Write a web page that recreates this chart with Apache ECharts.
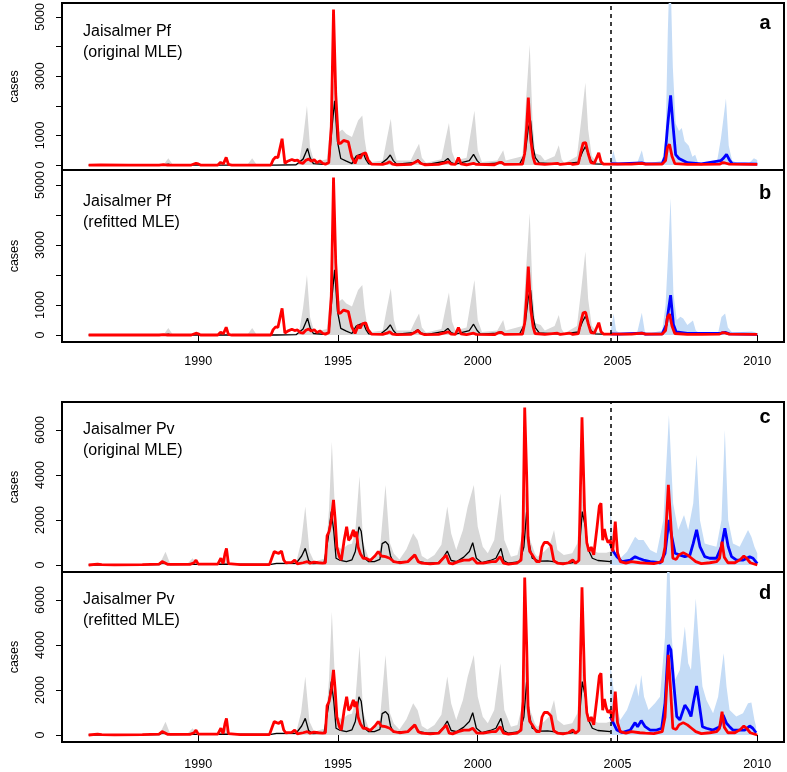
<!DOCTYPE html>
<html><head><meta charset="utf-8">
<script src="https://cdn.jsdelivr.net/npm/echarts@6/dist/echarts.min.js"></script>
<style>html,body{margin:0;padding:0;background:#fff}#c{width:787px;height:772px}</style>
</head><body><div id="c"></div>
<script>
// ---------- axis ticks ----------
const xTickValues = [1990, 1995, 2000, 2005, 2010];
const pfTickValues = [0, 1000, 2000, 3000, 4000, 5000];
const pfTickLabels = [0, 1000, 3000, 5000];
const pvTickValues = [0, 2000, 4000, 6000];
const forecastStart = 2004.75;
const panelTitles = ['Jaisalmer Pf\n(original MLE)', 'Jaisalmer Pf\n(refitted MLE)', 'Jaisalmer Pv\n(original MLE)', 'Jaisalmer Pv\n(refitted MLE)'];
const panelLetters = ['a', 'b', 'c', 'd'];

// ---------- Pf ----------
const pfCases = [[1986.08,0],[1986.5,5],[1987.5,0],[1988.6,0],[1988.75,15],[1988.9,0],[1989.75,0],[1989.92,60],[1990.0,40],[1990.08,0],[1990.7,0],[1990.8,90],[1990.9,40],[1991.0,260],[1991.08,20],[1991.2,0],[1992.6,0],[1992.68,180],[1992.77,270],[1992.85,250],[1993.0,890],[1993.1,60],[1993.2,130],[1993.35,190],[1993.45,150],[1993.55,170],[1993.65,80],[1993.75,60],[1993.85,160],[1993.95,200],[1994.05,130],[1994.15,180],[1994.25,80],[1994.35,140],[1994.45,60],[1994.55,30],[1994.67,80],[1994.76,1300],[1994.84,5250],[1994.92,2400],[1995.02,720],[1995.1,740],[1995.2,830],[1995.37,780],[1995.49,280],[1995.61,55],[1995.73,330],[1995.79,220],[1995.87,370],[1995.99,410],[1996.08,170],[1996.2,30],[1996.6,20],[1996.75,60],[1996.85,110],[1996.95,30],[1997.1,10],[1997.6,20],[1997.78,100],[1997.86,150],[1997.95,60],[1998.1,10],[1998.6,20],[1998.85,80],[1998.95,110],[1999.05,30],[1999.2,20],[1999.31,250],[1999.4,40],[1999.6,10],[1999.85,60],[1999.95,20],[2000.6,10],[2000.75,80],[2000.85,90],[2000.95,20],[2001.6,30],[2001.68,400],[2001.75,1280],[2001.81,2280],[2001.9,830],[2001.98,280],[2002.05,50],[2002.4,20],[2002.85,60],[2002.95,20],[2003.3,60],[2003.4,20],[2003.6,50],[2003.68,400],[2003.77,740],[2003.86,760],[2003.95,390],[2004.05,80],[2004.17,60],[2004.33,410],[2004.41,110],[2004.5,30],[2004.75,30],[2005.5,30],[2005.87,60],[2006.0,30],[2006.6,30],[2006.72,150],[2006.79,600],[2006.86,700],[2006.95,300],[2007.05,50],[2007.5,20],[2008.0,20],[2008.65,30],[2008.75,80],[2008.85,70],[2009.0,30],[2010.0,20]];
const pfMean = [[1986.08,0],[1988.8,5],[1988.93,30],[1989.05,0],[1992.8,0],[1993.5,10],[1993.75,200],[1993.91,560],[1994.0,250],[1994.12,50],[1994.5,20],[1994.68,100],[1994.78,1200],[1994.88,2170],[1994.98,800],[1995.1,220],[1995.3,130],[1995.5,50],[1995.65,300],[1995.8,360],[1995.91,390],[1996.0,180],[1996.1,40],[1996.5,20],[1996.75,200],[1996.87,340],[1996.98,150],[1997.1,30],[1997.7,80],[1997.86,180],[1997.98,60],[1998.2,20],[1998.8,120],[1998.93,220],[1999.05,80],[1999.2,30],[1999.7,150],[1999.85,360],[1999.98,150],[2000.1,30],[2000.7,60],[2000.83,110],[2000.95,40],[2001.5,40],[2001.7,400],[2001.81,1250],[2001.89,1500],[2001.98,600],[2002.06,250],[2002.2,70],[2002.8,40],[2003.0,30],[2003.6,100],[2003.75,450],[2003.85,620],[2003.95,400],[2004.05,150],[2004.2,40],[2004.75,20]];
const pfUpper = [[1986.08,0],[1988.75,0],[1988.93,230],[1989.1,0],[1991.75,0],[1991.93,230],[1992.1,0],[1993.6,50],[1993.75,900],[1993.89,2000],[1994.0,600],[1994.15,100],[1994.6,200],[1994.75,1500],[1994.84,2900],[1994.93,1800],[1995.02,1100],[1995.15,1200],[1995.3,1050],[1995.5,950],[1995.6,1200],[1995.72,1500],[1995.87,1670],[1995.95,900],[1996.05,300],[1996.2,100],[1996.6,150],[1996.75,900],[1996.89,1560],[1997.0,500],[1997.1,150],[1997.6,150],[1997.75,450],[1997.9,720],[1998.0,250],[1998.15,80],[1998.7,200],[1998.85,900],[1998.97,1420],[1999.08,450],[1999.2,150],[1999.6,250],[1999.75,1100],[1999.88,1830],[2000.0,500],[2000.15,100],[2000.7,150],[2000.82,350],[2000.91,500],[2001.0,150],[2001.6,300],[2001.75,2500],[2001.86,4060],[2001.96,1500],[2002.05,400],[2002.25,330],[2002.4,150],[2002.75,300],[2002.9,670],[2003.0,200],[2003.1,60],[2003.55,300],[2003.7,1500],[2003.85,2780],[2003.95,1200],[2004.08,300],[2004.3,80],[2004.75,50]];
const pfOrigForecast = [[2004.75,50],[2005.0,40],[2005.87,70],[2006.0,40],[2006.6,50],[2006.7,280],[2006.79,1300],[2006.9,2350],[2006.99,1300],[2007.08,350],[2007.2,220],[2007.5,80],[2008.0,40],[2008.7,150],[2008.78,220],[2008.9,360],[2009.0,180],[2009.1,50],[2010.0,30]];
const pfOrigUpper = [[2004.75,80],[2004.85,480],[2004.95,120],[2005.1,40],[2005.7,60],[2005.87,500],[2005.97,80],[2006.1,40],[2006.6,150],[2006.72,900],[2006.8,4500],[2006.88,7000],[2006.98,3300],[2007.08,1400],[2007.2,1150],[2007.3,1250],[2007.4,800],[2007.55,650],[2007.68,280],[2007.78,350],[2007.88,80],[2008.0,40],[2008.55,60],[2008.7,900],[2008.88,2250],[2008.98,650],[2009.1,150],[2009.3,60],[2009.7,60],[2009.88,230],[2010.0,170]];
const pfRefitForecast = [[2004.75,40],[2005.0,30],[2005.87,60],[2006.0,30],[2006.6,40],[2006.75,350],[2006.9,1330],[2007.0,350],[2007.1,100],[2007.5,50],[2008.7,60],[2008.85,90],[2009.0,40],[2010.0,20]];
const pfRefitUpper = [[2004.75,80],[2004.86,720],[2004.95,150],[2005.1,50],[2005.7,70],[2005.87,740],[2005.98,100],[2006.1,40],[2006.6,150],[2006.72,1000],[2006.79,2300],[2006.9,4560],[2007.0,1400],[2007.12,500],[2007.25,610],[2007.35,550],[2007.5,330],[2007.7,480],[2007.8,150],[2007.95,50],[2008.6,70],[2008.72,600],[2008.85,720],[2008.95,250],[2009.1,80],[2009.8,120],[2009.9,100],[2010.0,60]];

// ---------- Pv ----------
const pvCases = [[1986.08,0],[1986.4,40],[1986.55,20],[1987.0,10],[1988.0,20],[1988.6,40],[1988.71,150],[1988.8,100],[1988.9,30],[1989.7,30],[1989.85,100],[1989.92,220],[1990.0,40],[1990.7,40],[1990.81,300],[1990.89,60],[1990.96,520],[1991.01,740],[1991.08,60],[1991.5,20],[1992.55,20],[1992.65,370],[1992.72,595],[1992.8,550],[1992.88,520],[1992.98,620],[1993.06,220],[1993.13,100],[1993.35,120],[1993.45,220],[1993.55,50],[1993.75,100],[1993.9,150],[1994.0,80],[1994.15,130],[1994.3,100],[1994.45,80],[1994.55,100],[1994.61,1300],[1994.68,1480],[1994.76,2000],[1994.84,2890],[1994.9,2000],[1994.96,800],[1995.05,370],[1995.12,220],[1995.22,1100],[1995.31,1700],[1995.38,1100],[1995.45,1200],[1995.55,1560],[1995.6,1250],[1995.66,1480],[1995.72,800],[1995.8,500],[1995.9,300],[1996.0,300],[1996.15,200],[1996.32,400],[1996.44,600],[1996.55,400],[1996.7,370],[1996.85,300],[1997.0,150],[1997.2,100],[1997.5,150],[1997.75,450],[1997.87,150],[1998.0,80],[1998.3,50],[1998.6,80],[1998.87,440],[1998.98,80],[1999.1,50],[1999.3,150],[1999.5,220],[1999.7,220],[1999.82,300],[1999.97,80],[2000.2,80],[2000.5,150],[2000.65,150],[2000.8,370],[2000.92,80],[2001.1,40],[2001.4,80],[2001.55,220],[2001.62,1500],[2001.68,7000],[2001.75,4000],[2001.8,1200],[2001.86,600],[2001.95,450],[2002.1,150],[2002.22,150],[2002.3,800],[2002.38,1000],[2002.5,1000],[2002.62,850],[2002.72,200],[2002.85,80],[2003.05,50],[2003.25,100],[2003.4,220],[2003.5,80],[2003.62,200],[2003.73,6560],[2003.82,2500],[2003.9,1000],[2003.98,600],[2004.06,800],[2004.15,450],[2004.27,1700],[2004.35,2620],[2004.41,2740],[2004.47,1100],[2004.53,1600],[2004.6,1200],[2004.66,1000],[2004.74,1100],[2004.83,600],[2004.92,1930],[2005.0,550],[2005.1,150],[2005.3,80],[2005.5,150],[2005.8,100],[2006.0,80],[2006.3,60],[2006.6,150],[2006.7,800],[2006.82,3560],[2006.9,2000],[2006.98,300],[2007.1,250],[2007.2,450],[2007.35,550],[2007.5,450],[2007.65,300],[2007.8,150],[2008.0,60],[2008.3,100],[2008.55,150],[2008.65,300],[2008.74,1040],[2008.82,350],[2008.95,100],[2009.2,100],[2009.4,250],[2009.52,400],[2009.62,300],[2009.75,100],[2010.0,0]];
const pvMean = [[1986.08,0],[1988.6,20],[1988.73,100],[1988.85,60],[1989.0,20],[1989.9,30],[1990.9,40],[1992.6,30],[1992.8,70],[1993.5,70],[1993.7,400],[1993.83,740],[1993.95,200],[1994.1,60],[1994.5,80],[1994.65,1200],[1994.76,2370],[1994.85,1500],[1994.93,300],[1995.05,220],[1995.3,150],[1995.5,230],[1995.62,600],[1995.75,1700],[1995.83,1500],[1995.95,300],[1996.1,150],[1996.3,150],[1996.5,250],[1996.58,950],[1996.7,1040],[1996.8,900],[1996.88,400],[1996.98,120],[1997.2,150],[1997.5,150],[1997.75,400],[1997.9,150],[1998.2,80],[1998.6,100],[1998.75,300],[1998.91,620],[1999.05,200],[1999.25,150],[1999.5,350],[1999.7,600],[1999.82,990],[1999.95,300],[2000.15,100],[2000.45,200],[2000.65,300],[2000.83,740],[2000.93,200],[2001.1,80],[2001.5,150],[2001.65,800],[2001.75,2370],[2001.83,1000],[2001.95,300],[2002.2,170],[2002.5,180],[2002.7,150],[2003.0,80],[2003.3,80],[2003.6,150],[2003.74,2370],[2003.85,1700],[2003.95,700],[2004.1,300],[2004.3,200],[2004.75,150]];
const pvUpper = [[1986.08,0],[1988.6,0],[1988.83,590],[1989.0,50],[1989.6,50],[1989.8,300],[1989.95,50],[1990.7,60],[1990.98,370],[1991.1,30],[1992.5,50],[1993.5,100],[1993.68,1000],[1993.83,2600],[1993.98,600],[1994.15,150],[1994.4,250],[1994.55,300],[1994.68,2500],[1994.78,5480],[1994.9,2200],[1995.0,800],[1995.15,700],[1995.35,900],[1995.5,950],[1995.62,1500],[1995.77,3950],[1995.9,1000],[1996.1,300],[1996.3,250],[1996.5,700],[1996.7,3560],[1996.85,1000],[1997.0,500],[1997.2,250],[1997.45,700],[1997.69,1410],[1997.85,1100],[1998.0,400],[1998.2,250],[1998.45,450],[1998.7,900],[1998.91,2600],[1999.05,1400],[1999.23,670],[1999.47,1560],[1999.64,2590],[1999.86,3560],[2000.0,1700],[2000.18,810],[2000.36,520],[2000.59,1110],[2000.81,3190],[2000.95,1110],[2001.19,370],[2001.42,440],[2001.55,1100],[2001.68,3000],[2001.75,3600],[2001.85,1200],[2002.05,500],[2002.13,370],[2002.37,590],[2002.55,810],[2002.73,1560],[2002.85,670],[2003.08,440],[2003.38,520],[2003.56,960],[2003.73,3500],[2003.85,1000],[2004.05,700],[2004.3,550],[2004.6,550],[2004.74,600]];
const pvOrigForecast = [[2004.74,960],[2004.86,590],[2004.98,370],[2005.16,150],[2005.46,220],[2005.63,370],[2005.75,300],[2005.93,220],[2006.17,150],[2006.53,100],[2006.7,520],[2006.84,2000],[2006.94,1260],[2007.06,520],[2007.24,440],[2007.41,370],[2007.59,440],[2007.71,960],[2007.83,1560],[2007.95,820],[2008.12,370],[2008.3,300],[2008.54,300],[2008.72,820],[2008.84,1630],[2008.96,820],[2009.08,370],[2009.26,220],[2009.5,220],[2009.73,370],[2009.85,300],[2010.0,60]];
const pvOrigUpper = [[2004.74,2670],[2004.86,800],[2004.97,370],[2005.1,300],[2005.34,590],[2005.63,1260],[2005.75,1110],[2005.93,1110],[2006.17,670],[2006.4,520],[2006.64,2000],[2006.84,6670],[2006.99,2740],[2007.17,1560],[2007.38,2220],[2007.53,1560],[2007.71,2740],[2007.83,4900],[2007.95,1990],[2008.12,960],[2008.3,890],[2008.54,810],[2008.72,2000],[2008.84,6000],[2008.96,2000],[2009.13,960],[2009.37,810],[2009.67,1560],[2009.79,1260],[2009.9,810],[2010.0,520]];
const pvRefitForecast = [[2004.74,820],[2004.86,520],[2004.98,220],[2005.16,110],[2005.46,220],[2005.63,550],[2005.72,370],[2005.85,640],[2005.99,370],[2006.17,220],[2006.4,220],[2006.58,300],[2006.7,1410],[2006.82,4000],[2006.91,3780],[2007.0,2450],[2007.12,820],[2007.23,670],[2007.41,1330],[2007.53,1110],[2007.63,820],[2007.71,1410],[2007.83,2180],[2007.92,1410],[2008.04,370],[2008.18,300],[2008.42,220],[2008.66,370],[2008.78,890],[2008.9,520],[2009.01,370],[2009.13,220],[2009.37,220],[2009.55,220],[2009.73,400],[2009.84,300],[2009.96,100]];
const pvRefitUpper = [[2004.74,3190],[2004.92,1410],[2005.1,670],[2005.34,1110],[2005.51,1700],[2005.67,2300],[2005.75,1700],[2005.85,2670],[2005.95,1700],[2006.11,1110],[2006.34,1410],[2006.52,1700],[2006.7,4370],[2006.82,9000],[2006.94,4370],[2007.06,2450],[2007.23,2890],[2007.41,4820],[2007.53,3190],[2007.63,2890],[2007.71,4370],[2007.8,6070],[2007.92,3930],[2008.04,2150],[2008.18,1560],[2008.42,970],[2008.6,1700],[2008.72,2890],[2008.8,3630],[2008.9,2150],[2009.01,1110],[2009.25,820],[2009.49,970],[2009.67,1410],[2009.79,1440],[2009.9,670],[2009.96,370]];

// ---------- layout ----------
const panels = [
  {top: 1,   height: 169, min: -167, max: 5467, ticks: pfTickValues, labels: pfTickLabels, xLabels: false, xMargin: 13, titleTop: 21.5, letterY: 23,
   cases: pfCases, mean: pfMean, upper: pfUpper, fc: pfOrigForecast, fcUpper: pfOrigUpper},
  {top: 170, height: 172, min: -233, max: 5500, ticks: pfTickValues, labels: pfTickLabels, xLabels: true, xMargin: 13, titleTop: 191, letterY: 193,
   cases: pfCases, mean: pfMean, upper: pfUpper, fc: pfRefitForecast, fcUpper: pfRefitUpper},
  {top: 402, height: 170, min: -311, max: 7244, ticks: pvTickValues, labels: pvTickValues, xLabels: false, xMargin: 13, titleTop: 419.5, letterY: 417,
   cases: pvCases, mean: pvMean, upper: pvUpper, fc: pvOrigForecast, fcUpper: pvOrigUpper},
  {top: 572, height: 170, min: -311, max: 7244, ticks: pvTickValues, labels: pvTickValues, xLabels: true, xMargin: 16, titleTop: 589.5, letterY: 593,
   cases: pvCases, mean: pvMean, upper: pvUpper, fc: pvRefitForecast, fcUpper: pvRefitUpper}
];

const FONT = 'Liberation Sans, Arial, Helvetica, sans-serif';
const plain = v => String(Math.round(v));
const grid = [], xAxis = [], yAxis = [], series = [], title = [], graphic = [];
panels.forEach((p, i) => {
  grid.push({left: 59, width: 725, top: p.top, height: p.height, show: true, borderColor: '#000', borderWidth: 2, backgroundColor: 'transparent'});
  xAxis.push({
    type: 'value', gridIndex: i, min: 1985.126, max: 2010.957,
    axisLine: {show: false}, splitLine: {show: false},
    axisTick: {show: p.xLabels, customValues: xTickValues, length: 7, lineStyle: {color: '#000', width: 1}},
    axisLabel: {show: p.xLabels, customValues: xTickValues, formatter: plain, margin: p.xMargin, fontSize: 12.5, color: '#000', fontFamily: FONT}
  });
  yAxis.push({
    type: 'value', gridIndex: i, min: p.min, max: p.max,
    name: 'cases', nameLocation: 'middle', nameRotate: 90, nameGap: 41,
    nameTextStyle: {fontSize: 12.5, color: '#000', fontFamily: FONT},
    axisLine: {show: false}, splitLine: {show: false},
    axisTick: {show: true, customValues: p.ticks, length: 6, lineStyle: {color: '#000', width: 1}},
    axisLabel: {customValues: p.labels, formatter: plain, rotate: 90, margin: 15, fontSize: 12.5, color: '#000', fontFamily: FONT}
  });
  const base = {type: 'line', xAxisIndex: i, yAxisIndex: i, symbol: 'none', showSymbol: false, animation: false, silent: true};
  series.push(Object.assign({}, base, {name: 'upper' + i, data: p.upper, lineStyle: {width: 0}, areaStyle: {color: '#d8d8d8', opacity: 1}, z: 1}));
  series.push(Object.assign({}, base, {name: 'fcUpper' + i, data: p.fcUpper, lineStyle: {width: 0}, areaStyle: {color: '#c5dcf6', opacity: 1}, z: 1,
    markLine: {silent: true, symbol: ['none', 'none'], label: {show: false}, animation: false,
      lineStyle: {color: '#000', width: 1.5, type: [4, 4]}, data: [{xAxis: forecastStart}]}}));
  series.push(Object.assign({}, base, {name: 'mean' + i, data: p.mean, lineStyle: {color: '#000', width: 1.3}, z: 2}));
  series.push(Object.assign({}, base, {name: 'fc' + i, data: p.fc, lineStyle: {color: '#0000ff', width: 2.8}, z: 3}));
  series.push(Object.assign({}, base, {name: 'cases' + i, data: p.cases, lineStyle: {color: '#ff0000', width: 2.8}, z: 4}));
  title.push({text: panelTitles[i], left: 83, top: p.titleTop, padding: 0,
    textStyle: {fontSize: 16, fontWeight: 'normal', color: '#000', fontFamily: FONT, lineHeight: 21}});
  graphic.push({type: 'text', x: 765, y: p.letterY, style: {text: panelLetters[i], fontSize: 20, fontWeight: 'bold', fill: '#000', fontFamily: FONT, align: 'center', verticalAlign: 'middle'}});
});

const chart = echarts.init(document.getElementById('c'), null, {renderer: 'canvas'});
chart.setOption({animation: false, backgroundColor: '#fff', grid, xAxis, yAxis, series, title, graphic});
</script></body></html>
